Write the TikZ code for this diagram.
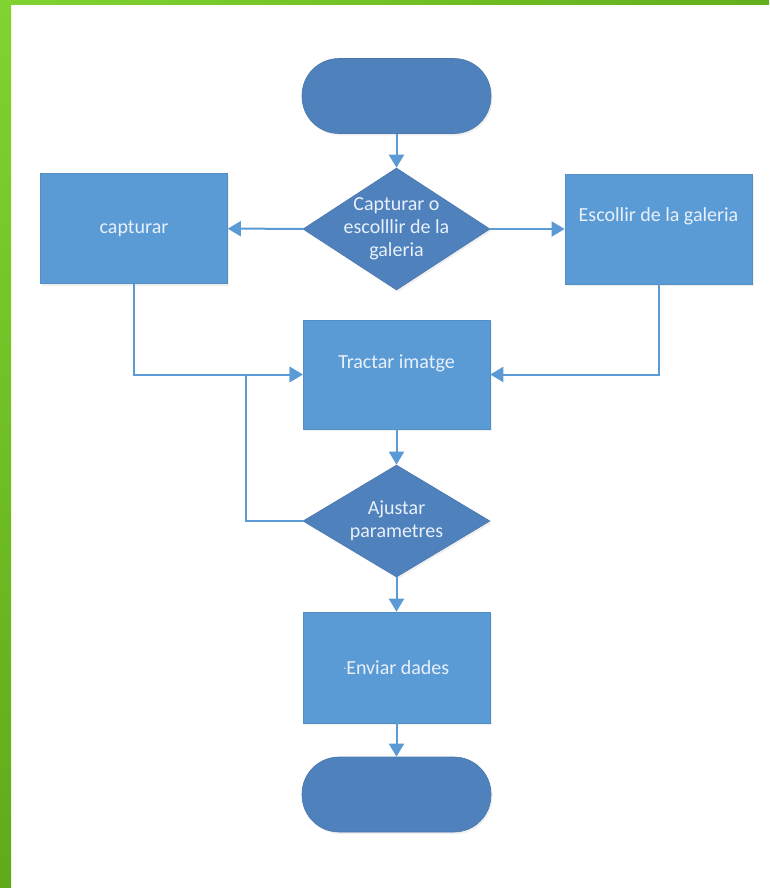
\documentclass[tikz,border=0pt]{standalone}
\usepackage{fontspec}
\setmainfont{Carlito}
\usetikzlibrary{shapes.geometric,arrows.meta,shadows}
\definecolor{boxblue}{HTML}{5B9BD5}
\definecolor{darkblue}{HTML}{4F81BD}
\definecolor{linkblue}{HTML}{5B9BD5}
\definecolor{txt}{RGB}{232,240,250}
\definecolor{greenlight}{HTML}{80D330}
\definecolor{greendark}{HTML}{60AA1A}
\tikzset{
  shade1/.style={drop shadow={opacity=0.12,shadow xshift=1.5pt,shadow yshift=-2pt}},
  procbox/.style={rectangle,fill=boxblue,draw=boxblue!92!black,line width=0.6pt,minimum width=187pt,minimum height=110pt,inner sep=0pt,shade1},
  terminal/.style={rectangle,rounded corners=37pt,fill=darkblue,draw=darkblue!92!black,line width=0.6pt,minimum width=189pt,minimum height=75pt,inner sep=0pt,shade1},
  decision/.style={diamond,fill=darkblue,draw=darkblue!92!black,line width=0.6pt,minimum width=187pt,minimum height=122pt,inner sep=0pt,shade1},
  label1/.style={text=txt,font=\fontsize{20}{23}\selectfont,align=center,inner sep=0pt},
  conn/.style={draw=linkblue,line width=2pt,-{Triangle[length=13pt,width=15pt]}},
}
\begin{document}
\begin{tikzpicture}[x=1pt,y=-1pt]
\useasboundingbox (0,0) rectangle (769,888);
\fill[white] (0,0) rectangle (769,888);
\shade[top color=greenlight,bottom color=greendark] (0,0) rectangle (11,888);
\shade[left color=greenlight,right color=greendark!90!greenlight] (0,0) rectangle (769,5);

\node[terminal] (start) at (396.5,96) {};
\node[decision] (d1) at (396.5,229) {};
\node[label1] (d1t) at (396.5,229) {Capturar o\\escolllir de la\\galeria};
\node[procbox] (cap) at (134,228.5) {};
\node[label1] (capt) at (134,228.5) {capturar};
\node[procbox] (esc) at (658.5,229) {};
\node[label1] (esct) at (658.5,216) {Escollir de la galeria};
\node[procbox,minimum height=109pt] (tr) at (396.5,374.5) {};
\node[label1] (trt) at (396.5,363) {Tractar imatge};
\node[decision,minimum height=112pt] (d2) at (396.5,521) {};
\node[label1] (d2t) at (396.5,521) {Ajustar\\parametres};
\node[procbox,minimum height=111pt] (env) at (396.5,667.5) {};
\node[label1] (envt) at (396.5,667.5) {{\fontsize{10}{10}\selectfont\raisebox{0.25em}{·}}Enviar dades};
\node[terminal] (end) at (396.5,794.5) {};
\coordinate (loop) at (246,521);

\draw[conn] (start) -- (d1);
\draw[conn] (d1) -- (cap);
\draw[conn] (d1) -- (esc);
\draw[conn] (cap.south) |- (tr.west);
\draw[conn] (esc.south) |- (tr.east);
\draw[conn] (tr) -- (d2);
\draw[conn] (d2.west) -- (loop) |- (tr.west);
\draw[conn] (d2) -- (env);
\draw[conn] (env) -- (end);
\end{tikzpicture}
\end{document}
